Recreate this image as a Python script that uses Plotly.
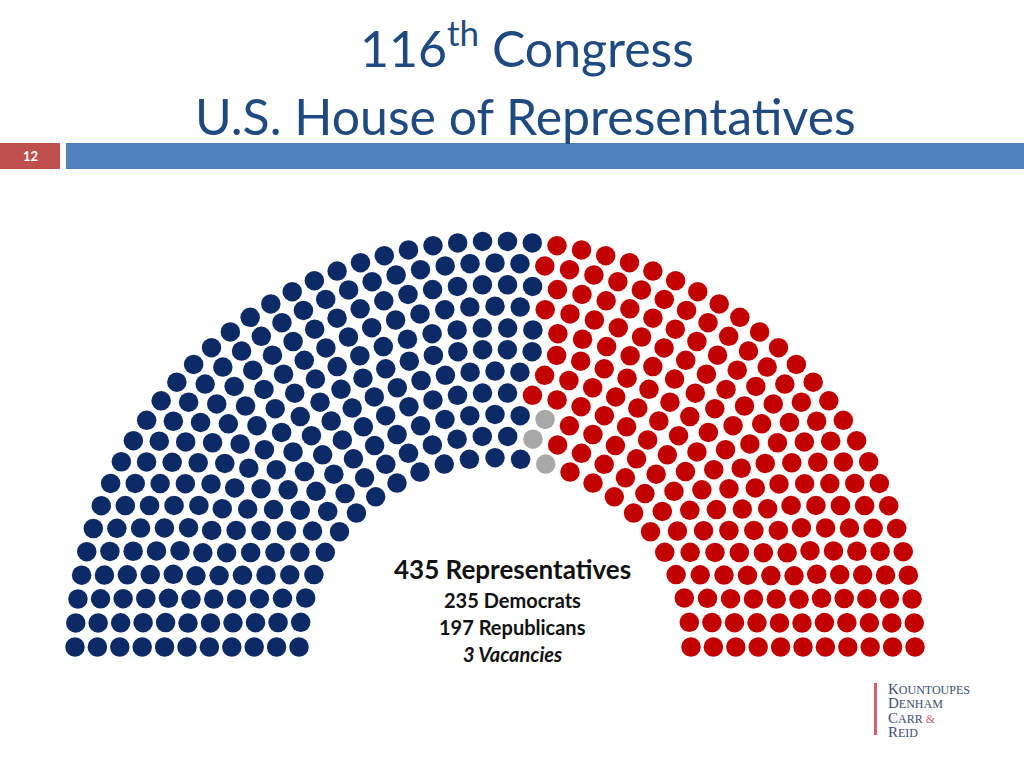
import math
import plotly.graph_objects as go

# ---- data ----
parties = ["Democrats", "Vacancies", "Republicans"]
seats = [235, 3, 197]
party_colors = ["#0B2A66", "#A8A8A8", "#C30000"]
total_seats = sum(seats)
n_rows = 11

title_line1 = "116<sup>th</sup> Congress"
title_line2 = "U.S. House of Representatives"
slide_number = "12"
summary_lines = ["435 Representatives", "235 Democrats", "197 Republicans", "3 Vacancies"]
logo_words = [("K", "OUNTOUPES", ""), ("D", "ENHAM", ""), ("C", "ARR", " &"), ("R", "EID", "")]

# ---- hemicycle geometry (pixel space) ----
cx, cy = 495, 647
r_in, r_out = 196, 420
y_squash = 0.966
dot_size = 19.5

radii = [r_in + (r_out - r_in) * i / (n_rows - 1) for i in range(n_rows)]

def largest_remainder(total, weights):
    raw = [total * w / sum(weights) for w in weights]
    out = [int(math.floor(v)) for v in raw]
    left = total - sum(out)
    for i in sorted(range(len(raw)), key=lambda i: raw[i] - out[i], reverse=True)[:left]:
        out[i] += 1
    return out

per_row = largest_remainder(total_seats, radii)

# vacancies: one per row, starting from the innermost row
vac_row = [1 if i < seats[1] else 0 for i in range(n_rows)]
# democrats: nearest rounding of each row's share, surplus trimmed from rows without vacancies
share = seats[0] / total_seats
dem_raw = [n * share for n in per_row]
dem_row = [int(math.floor(v + 0.5)) for v in dem_raw]
surplus = sum(dem_row) - seats[0]
while surplus != 0:
    if surplus > 0:
        cand = [i for i in range(n_rows) if vac_row[i] == 0 and dem_row[i] > dem_raw[i]]
        i = min(cand, key=lambda i: dem_raw[i] - math.floor(dem_raw[i]))
        dem_row[i] -= 1
        surplus -= 1
    else:
        cand = [i for i in range(n_rows) if dem_row[i] < dem_raw[i]]
        i = max(cand, key=lambda i: dem_raw[i] - math.floor(dem_raw[i]))
        dem_row[i] += 1
        surplus += 1
rep_row = [n - d - v for n, d, v in zip(per_row, dem_row, vac_row)]
row_counts = [dem_row, vac_row, rep_row]

xs = [[], [], []]
ys = [[], [], []]
for i, (r, n) in enumerate(zip(radii, per_row)):
    labels = []
    for p in range(3):
        labels += [p] * row_counts[p][i]
    for j in range(n):
        th = math.pi * (1 - j / (n - 1))
        p = labels[j]
        xs[p].append(cx + r * math.cos(th))
        ys[p].append(cy - y_squash * r * math.sin(th))

fig = go.Figure()
for p, (name, col) in enumerate(zip(parties, party_colors)):
    fig.add_trace(go.Scatter(
        x=xs[p], y=ys[p], mode="markers", name=name,
        marker=dict(size=dot_size, color=col, line=dict(width=0)),
        hoverinfo="name",
    ))

# header bars
fig.add_shape(type="rect", x0=0, x1=60, y0=143, y1=169, fillcolor="#C0504D", line_width=0, layer="below")
fig.add_shape(type="rect", x0=66, x1=1024, y0=143, y1=169, fillcolor="#4F81BD", line_width=0, layer="below")
fig.add_annotation(x=30, y=156, text="<b>%s</b>" % slide_number, showarrow=False,
                   font=dict(family="Lato", size=13, color="white"))

title_font = dict(family="Lato", size=50, color="#1F4A80")
fig.add_annotation(x=527, y=44, text=title_line1, showarrow=False, font=title_font)
fig.add_annotation(x=525, y=116, text=title_line2, showarrow=False, font=title_font)

# summary text
txt_col = "#111111"
fig.add_annotation(x=512, y=569, text="<b>%s</b>" % summary_lines[0], showarrow=False,
                   font=dict(family="Lato", size=26, color=txt_col))
fig.add_annotation(x=512, y=600, text="<b>%s</b>" % summary_lines[1], showarrow=False,
                   font=dict(family="Lato", size=20, color=txt_col))
fig.add_annotation(x=512, y=627, text="<b>%s</b>" % summary_lines[2], showarrow=False,
                   font=dict(family="Lato", size=20, color=txt_col))
fig.add_annotation(x=512, y=654, text="<b><i>%s</i></b>" % summary_lines[3], showarrow=False,
                   font=dict(family="Lato", size=20, color=txt_col))

# logo
fig.add_shape(type="rect", x0=874, x1=877, y0=683, y1=735, fillcolor="#D25F6B", line_width=0)
logo_col = "#3E4C70"
for k, (a, b, amp) in enumerate(logo_words):
    txt = "<span style='font-size:15px'>%s</span>%s" % (a, b)
    if amp:
        txt += "<span style='color:#D25F6B'>%s</span>" % amp
    fig.add_annotation(x=886, y=689 + 14.3 * k, text=txt, showarrow=False, xanchor="left",
                       font=dict(family="Liberation Serif", size=12, color=logo_col))

fig.update_layout(
    width=1024, height=768, margin=dict(l=0, r=0, t=0, b=0),
    paper_bgcolor="white", plot_bgcolor="white", showlegend=False,
    xaxis=dict(range=[0, 1024], visible=False, fixedrange=True),
    yaxis=dict(range=[768, 0], visible=False, fixedrange=True),
)
fig.write_html("out.html", config={"displayModeBar": False},
               post_script="document.body.style.margin='0';document.body.style.overflow='hidden';")
